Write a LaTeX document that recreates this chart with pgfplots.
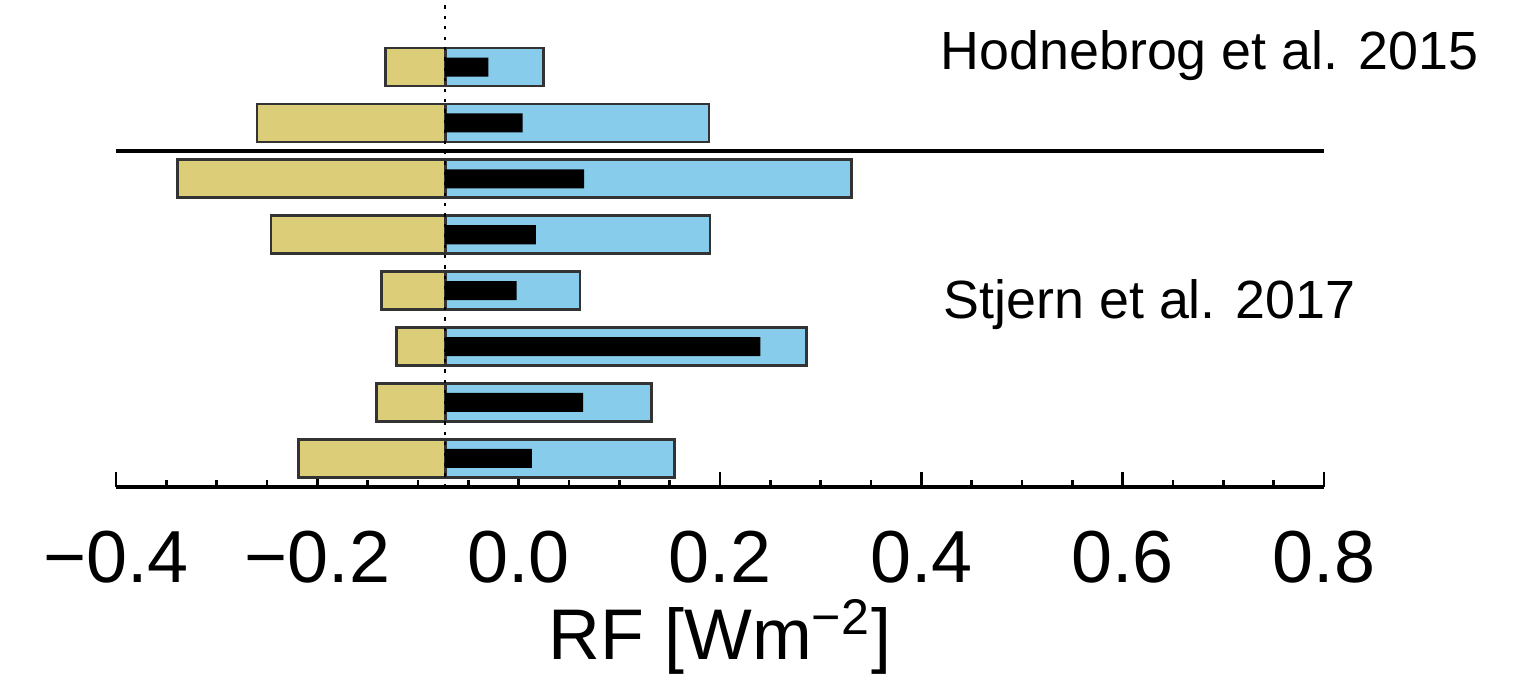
\documentclass[border=0pt]{standalone}
\usepackage{fontspec}
\setmainfont{Liberation Sans}
\usepackage{pgfplots}
\pgfplotsset{compat=1.18}
\usepackage{pgfplotstable}
\definecolor{aeryel}{RGB}{220,205,120}
\definecolor{aerblue}{RGB}{135,204,235}
% row y, left end (yellow), right end (blue), right end (black); RF in W m^-2
\pgfplotstableread{
y yel blu blk
8 -0.132 0.025 -0.030
7 -0.260 0.189 0.004
6 -0.339 0.331 0.065
5 -0.246 0.190 0.017
4 -0.136 0.061 -0.002
3 -0.121 0.286 0.240
2 -0.141 0.132 0.064
1 -0.219 0.155 0.013
}\rfdata
\begin{document}
\begin{tikzpicture}
\begin{axis}[
  scale only axis, width=302bp, height=121.75bp,
  xmin=-0.4, xmax=0.8, ymin=0.487, ymax=9.2,
  x coord trafo/.code={\pgfmathparse{#1+0.073}},
  x coord inv trafo/.code={\pgfmathparse{#1-0.073}},
  axis x line*=bottom, axis y line=none,
  axis line style={line width=1bp},
  xtick={-0.4,-0.2,0,0.2,0.4,0.6,0.8},
  xticklabels={−0.4,−0.2,0.0,0.2,0.4,0.6,0.8},
  minor xtick={-0.35,-0.3,-0.25,-0.15,-0.1,-0.05,0.05,0.1,0.15,0.25,0.3,0.35,0.45,0.5,0.55,0.65,0.7,0.75},
  tick align=inside,
  major tick length=3.7bp, minor tick length=1.8bp,
  every tick/.style={black, line width=0.6bp},
  xticklabel style={font=\fontsize{18.5}{20}\selectfont, anchor=base, yshift=-23.75bp},
  xlabel={RF [Wm\textsuperscript{−2}]},
  xlabel style={font=\fontsize{18}{20}\selectfont, at={(axis description cs:0.5,-0.355)}, anchor=base},
  rfbar/.style={xbar, bar shift=0pt, bar width=#1},
  clip=false,
]
\addplot[rfbar=0.68, draw=black!80, line width=0.7bp, fill=aeryel] table[x=yel, y=y] {\rfdata};
\addplot[rfbar=0.68, draw=black!80, line width=0.7bp, fill=aerblue] table[x=blu, y=y] {\rfdata};
\addplot[rfbar=0.34, draw=none, fill=black] table[x=blk, y=y] {\rfdata};
\addplot[sharp plot, black, line width=0.5bp, dash pattern=on 0.8bp off 1.8bp] coordinates {(-0.073,0.487) (-0.073,9.2)};
\addplot[sharp plot, black, line width=1bp] coordinates {(-0.4,6.49) (0.8,6.49)};
\node[anchor=base west, font=\fontsize{13.5}{16}\selectfont, inner sep=0pt] at (axis cs:0.4185,7.95) {Hodnebrog et al. 2015};
\node[anchor=base west, font=\fontsize{13.5}{16}\selectfont, inner sep=0pt] at (axis cs:0.4215,3.51) {Stjern et al. 2017};
\end{axis}
\pgfresetboundingbox
\path[use as bounding box] ([shift={(-29bp,-47.75bp)}]current axis.south west) rectangle ([shift={(355bp,0bp)}]current axis.north west);
\end{tikzpicture}
\end{document}
